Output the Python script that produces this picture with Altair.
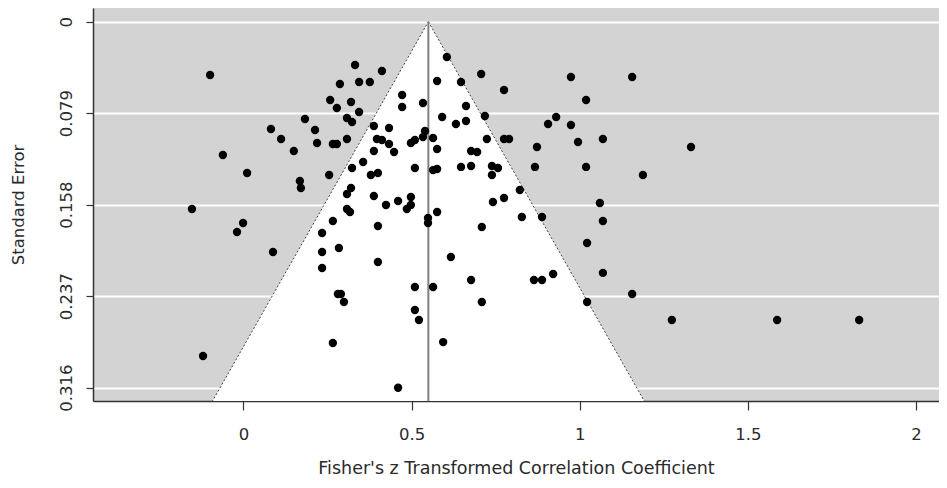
import altair as alt
import pandas as pd

# Fisher's z values (x) and their standard errors (y)
fisher_z = [
    -0.099, 0.332, 0.412, 0.287, 0.344, 0.376, 0.258, 0.320, 0.278, 0.344,
    0.308, 0.323, 0.183, 0.082, 0.213, 0.112, 0.219, 0.266, 0.278, 0.308,
    0.150, -0.061, 0.011, 0.168, 0.171, 0.255, 0.323, -0.153, -0.001, -0.019,
    0.088, -0.120, 0.388, 0.433, 0.397, 0.412, 0.433, 0.448, 0.388, 0.356,
    0.379, 0.400, 0.472, 0.472, 0.498, 0.510, 0.510, 0.320, 0.308, 0.388,
    0.424, 0.460, 0.498, 0.498, 0.486, 0.308, 0.317, 0.266, 0.234, 0.234,
    0.284, 0.234, 0.400, 0.400, 0.281, 0.290, 0.299, 0.266, 0.510, 0.510,
    0.522, 0.460, 0.534, 0.540, 0.534, 0.605, 0.576, 0.647, 0.662, 0.591,
    0.718, 0.632, 0.662, 0.564, 0.576, 0.724, 0.677, 0.695, 0.564, 0.576,
    0.647, 0.677, 0.739, 0.757, 0.739, 0.549, 0.549, 0.576, 0.709, 0.742,
    0.775, 0.822, 0.828, 0.888, 0.617, 0.677, 0.864, 0.888, 0.921, 0.564,
    0.709, 0.594, 0.707, 0.775, 0.974, 1.156, 1.019, 0.930, 0.906, 0.974,
    0.995, 1.069, 0.873, 0.790, 0.775, 0.867, 1.019, 1.188, 1.060, 1.069,
    1.022, 1.069, 1.156, 1.022, 1.274, 1.587, 1.831, 1.331,
]
std_err = [
    0.0460, 0.0374, 0.0426, 0.0538, 0.0521, 0.0521, 0.0676, 0.0693, 0.0745, 0.0780,
    0.0831, 0.0866, 0.0840, 0.0926, 0.0935, 0.1013, 0.1047, 0.1056, 0.1056, 0.1013,
    0.1116, 0.1151, 0.1306, 0.1375, 0.1436, 0.1324, 0.1263, 0.1617, 0.1738, 0.1816,
    0.1988, 0.2886, 0.0901, 0.0918, 0.1013, 0.1021, 0.1056, 0.1125, 0.1116, 0.1211,
    0.1324, 0.1306, 0.0633, 0.0736, 0.1047, 0.1021, 0.1263, 0.1436, 0.1488, 0.1505,
    0.1583, 0.1548, 0.1514, 0.1583, 0.1617, 0.1617, 0.1643, 0.1721, 0.1824, 0.1988,
    0.1954, 0.2127, 0.1764, 0.2075, 0.2351, 0.2351, 0.2420, 0.2774, 0.2291, 0.2489,
    0.2576, 0.3160, 0.0702, 0.0944, 0.0996, 0.0305, 0.0512, 0.0521, 0.0728, 0.0823,
    0.0814, 0.0883, 0.0857, 0.1004, 0.1099, 0.1013, 0.1116, 0.1125, 0.1281, 0.1272,
    0.1254, 0.1246, 0.1246, 0.1263, 0.1324, 0.1695, 0.1738, 0.1643, 0.1773, 0.1557,
    0.1522, 0.1453, 0.1686, 0.1686, 0.2032, 0.2230, 0.2230, 0.2230, 0.2178, 0.2291,
    0.2420, 0.2766, 0.0452, 0.0590, 0.0477, 0.0477, 0.0676, 0.0823, 0.0883, 0.0892,
    0.1039, 0.1013, 0.1082, 0.1013, 0.1013, 0.1254, 0.1254, 0.1324, 0.1565, 0.1721,
    0.1911, 0.2169, 0.2351, 0.2420, 0.2576, 0.2576, 0.2576, 0.1082,
]

estimate = 0.55
z_crit = 1.96
se_bottom = 0.3283
se_ticks = [0, 0.079, 0.158, 0.237, 0.316]
z_ticks = [0, 0.5, 1, 1.5, 2]
x_title = "Fisher's z Transformed Correlation Coefficient"
y_title = "Standard Error"

pts = pd.DataFrame({"z": fisher_z, "se": std_err})
funnel = pd.DataFrame({
    "se": [0, se_bottom],
    "lo": [estimate, estimate - z_crit * se_bottom],
    "hi": [estimate, estimate + z_crit * se_bottom],
})
edges = pd.DataFrame({
    "side": ["l", "l", "r", "r"],
    "se": [0, se_bottom, 0, se_bottom],
    "z": [estimate, estimate - z_crit * se_bottom, estimate, estimate + z_crit * se_bottom],
})
ref = pd.DataFrame({"z": [estimate, estimate], "se": [0, se_bottom]})

FONT = "DejaVu Sans"
TXT = "#2a2a2a"

xs = alt.Scale(domain=[-0.4472, 2.0684], nice=False, zero=False)
ys = alt.Scale(domain=[-0.01183, 0.32749], reverse=True, nice=False, zero=False)
xa = alt.Axis(values=z_ticks, title=x_title, grid=False, tickSize=9, format="~g",
              labelPadding=16, titlePadding=17, labelFontSize=16.5, titleFontSize=17.5)
ya = alt.Axis(values=se_ticks, title=y_title, grid=True, gridColor="white", gridWidth=2,
              gridOpacity=1, tickSize=7, format=".3~f", labelAngle=-90,
              labelAlign="center", labelBaseline="bottom", labelPadding=12,
              titlePadding=32, labelFontSize=16.5, titleFontSize=16.5)

area = alt.Chart(funnel).mark_area(orient="horizontal", color="white", opacity=1, clip=True).encode(
    y=alt.Y("se:Q", scale=ys, axis=ya),
    x=alt.X("lo:Q", scale=xs, axis=xa),
    x2="hi:Q",
)
edge_lines = alt.Chart(edges).mark_line(color="#444444", strokeWidth=1, strokeDash=[2, 2], clip=True).encode(
    x=alt.X("z:Q", scale=xs, axis=xa),
    y=alt.Y("se:Q", scale=ys, axis=ya),
    detail="side:N",
)
ref_line = alt.Chart(ref).mark_line(color="#808080", strokeWidth=2, clip=True).encode(
    x=alt.X("z:Q", scale=xs, axis=xa),
    y=alt.Y("se:Q", scale=ys, axis=ya),
)
points = alt.Chart(pts).mark_circle(color="black", size=70, opacity=1).encode(
    x=alt.X("z:Q", scale=xs, axis=xa),
    y=alt.Y("se:Q", scale=ys, axis=ya),
)

chart = alt.layer(area, edge_lines, ref_line, points).properties(
    width=846, height=393,
    autosize="none",
    padding={"left": 85, "top": 0, "right": 0, "bottom": 79},
).configure_view(
    fill="#d3d3d3", stroke=None
).configure_axis(
    labelFont=FONT, titleFont=FONT,
    labelColor=TXT, titleColor=TXT, titleFontWeight="normal",
    domainColor="#333333", domainWidth=1.5, tickColor="#333333", tickWidth=1.2,
)

chart.save("out.html", embed_options={"renderer": "svg", "actions": False})
